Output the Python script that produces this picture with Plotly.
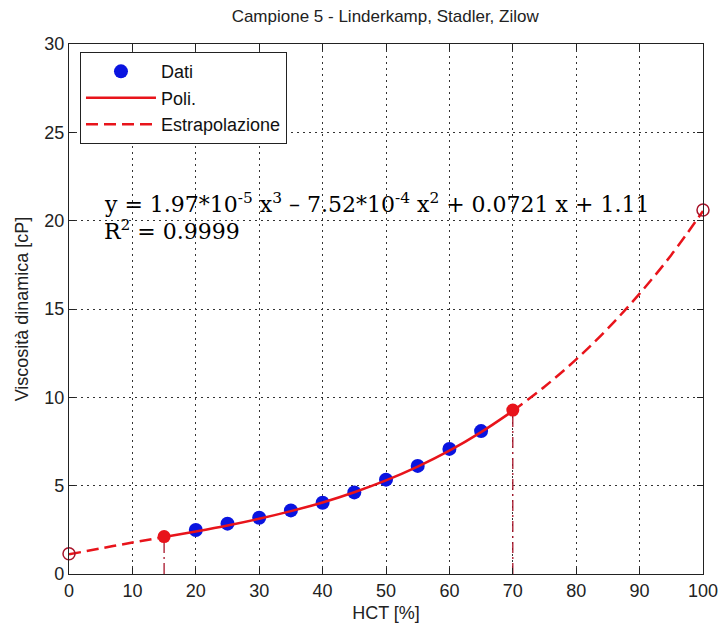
import plotly.graph_objects as go

# Measured data (blue points)
hct_data = [20, 25, 30, 35, 40, 45, 50, 55, 60, 65]
visc_data = [2.49, 2.85, 3.18, 3.60, 4.03, 4.62, 5.34, 6.12, 7.08, 8.09]

# Polynomial fit curve inside the fitted range (solid)
hct_fit = [15, 20, 25, 30, 35, 40, 45, 50, 55, 60, 65, 70]
visc_fit = [2.09, 2.41, 2.75, 3.13, 3.56, 4.05, 4.63, 5.30, 6.08, 6.98, 8.03, 9.23]

# Extrapolated parts (dashed)
hct_ext_low = [0, 5, 10, 15]
visc_ext_low = [1.11, 1.45, 1.78, 2.09]
hct_ext_high = [70, 75, 80, 85, 90, 95, 100]
visc_ext_high = [9.23, 10.60, 12.15, 13.90, 15.87, 18.06, 20.55]

# Key points
hct_limits = [15, 70]
visc_limits = [2.12, 9.28]
hct_ends = [0, 100]
visc_ends = [1.15, 20.6]

x_ticks = [0, 10, 20, 30, 40, 50, 60, 70, 80, 90, 100]
y_ticks = [0, 5, 10, 15, 20, 25, 30]

RED = "#e8141b"
DARKRED = "#a8142a"
BLUE = "#0a14e0"
SANS = "Liberation Sans, Arial, sans-serif"

fig = go.Figure()

# vertical dash-dot guide lines
for hx, vy in zip(hct_limits, visc_limits):
    fig.add_trace(go.Scatter(x=[hx, hx], y=[0, vy], mode="lines",
                             line=dict(color=DARKRED, width=1.3, dash="11px,4px,2px,4px"),
                             showlegend=False, hoverinfo="skip"))

fig.add_trace(go.Scatter(x=hct_data, y=visc_data, mode="markers", name="Dati",
                         marker=dict(color=BLUE, size=14, line=dict(width=0))))

fig.add_trace(go.Scatter(x=hct_fit, y=visc_fit, mode="lines", name="Poli.",
                         line=dict(color=RED, width=2.5, shape="spline")))

fig.add_trace(go.Scatter(x=hct_ext_low, y=visc_ext_low, mode="lines", name="Estrapolazione",
                         line=dict(color=RED, width=2.5, dash="12px,6px", shape="spline"),
                         legendgroup="ext"))
fig.add_trace(go.Scatter(x=hct_ext_high, y=visc_ext_high, mode="lines", showlegend=False,
                         line=dict(color=RED, width=2.5, dash="12px,6px", shape="spline"),
                         legendgroup="ext"))

fig.add_trace(go.Scatter(x=hct_limits, y=visc_limits, mode="markers", showlegend=False,
                         marker=dict(color=RED, size=13)))
fig.add_trace(go.Scatter(x=hct_ends, y=visc_ends, mode="markers", showlegend=False,
                         marker=dict(color="rgba(0,0,0,0)", size=12,
                                     line=dict(color=DARKRED, width=1.5)),
                         cliponaxis=False))

axis_common = dict(showline=True, linecolor="#222", linewidth=1.2, mirror="ticks",
                   ticks="inside", ticklen=6, tickcolor="#222",
                   showgrid=True, gridcolor="#333", griddash="2px,4px", gridwidth=1,
                   zeroline=False, automargin=False,
                   tickfont=dict(family=SANS, size=18, color="#222"))

fig.update_layout(
    width=720, height=634,
    margin=dict(l=69, r=17, t=44, b=60),
    paper_bgcolor="white", plot_bgcolor="white",
    font=dict(family=SANS, color="#222"),
    title=dict(text="Campione 5 - Linderkamp, Stadler, Zilow", x=0.535, xanchor="center",
               y=0.974, yanchor="middle", font=dict(size=17, color="#222")),
    xaxis=dict(range=[0, 100], tickvals=x_ticks,
               title=dict(text="HCT [%]", font=dict(size=18), standoff=6), **axis_common),
    yaxis=dict(range=[0, 30], tickvals=y_ticks,
               title=dict(text="Viscosità dinamica [cP]", font=dict(size=18), standoff=10), **axis_common),
    legend=dict(x=0.017, y=0.985, xanchor="left", yanchor="top",
                bgcolor="white", bordercolor="#222", borderwidth=1.2,
                font=dict(size=18, color="#111"), itemwidth=70,
                tracegroupgap=0),
    showlegend=True,
)

fig.add_annotation(
    xref="paper", yref="paper", x=0.052, y=0.700, xanchor="left", yanchor="middle",
    showarrow=False, align="left",
    text="y = 1.97*10<sup>-5</sup> x<sup>3</sup> – 7.52*10<sup>-4</sup> x<sup>2</sup> + 0.0721 x + 1.11",
    font=dict(family="DejaVu Serif, serif", size=22, color="black"))
fig.add_annotation(
    xref="paper", yref="paper", x=0.052, y=0.650, xanchor="left", yanchor="middle",
    showarrow=False, align="left",
    text="R<sup>2</sup> = 0.9999",
    font=dict(family="DejaVu Serif, serif", size=22, color="black"))

fig.write_html("out.html")
